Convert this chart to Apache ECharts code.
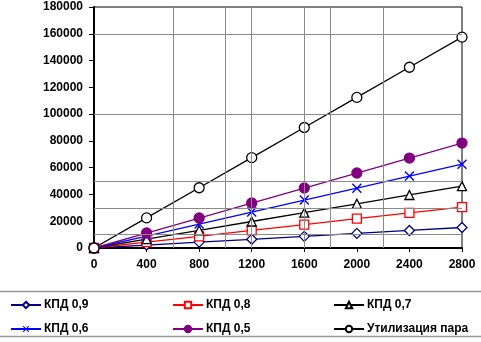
<!DOCTYPE html>
<html><head><meta charset="utf-8">
<script src="https://cdn.jsdelivr.net/npm/echarts@6/dist/echarts.min.js"></script>
<style>html,body{margin:0;padding:0;background:#fff}#c{width:481px;height:342px}</style>
</head><body><div id="c"></div>
<script>
var xValues = [0, 400, 800, 1200, 1600, 2000, 2400, 2800];
var kpd09 = [0, 2200, 4400, 6500, 8700, 10900, 13100, 15300];
var kpd08 = [0, 4400, 8700, 13100, 17500, 21900, 26200, 30600];
var kpd07 = [0, 6600, 13200, 19800, 26400, 33000, 39600, 46200];
var kpd06 = [0, 8950, 17900, 26800, 35800, 44700, 53700, 62600];
var kpd05 = [0, 11200, 22400, 33600, 44800, 56000, 67200, 78400];
var steam = [0, 22500, 45000, 67500, 90000, 112500, 135000, 157500];
var seriesNames = ['КПД 0,9', 'КПД 0,8', 'КПД 0,7', 'КПД 0,6', 'КПД 0,5', 'Утилизация пара'];
var xGridLines = [600, 1000, 1200, 1600, 1800, 2200];
var yGridLines = [10000, 30000, 50000, 100000, 160000];

function pts(arr){ return xValues.map(function(x,i){ return [x, arr[i]]; }); }
var X_PATH = 'path://M0,1L1,0L5,4L9,0L10,1L6,5L10,9L9,10L5,6L1,10L0,9L4,5Z';
var font = 'Liberation Sans, Arial, sans-serif';

function mk(name, data, color, symbol, size, fill){
  return {
    name: name, type: 'line', data: pts(data), z: 3,
    symbol: symbol, symbolSize: size, showAllSymbol: true,
    lineStyle: {color: color, width: 1.3},
    itemStyle: {color: fill, borderColor: color, borderWidth: 1.3},
    emphasis: {disabled: true}, animation: false
  };
}

var series = [
  {type: 'line', data: [], z: 1, silent: true, animation: false,
   markLine: {silent: true, symbol: 'none', animation: false, label: {show: false},
     lineStyle: {color: '#8a8a8a', width: 1, type: 'solid'},
     data: xGridLines.map(function(v){return {xAxis: v};}).concat(yGridLines.map(function(v){return {yAxis: v};}))}},
  mk(seriesNames[0], kpd09, '#000080', 'diamond', 10, '#fff'),
  mk(seriesNames[1], kpd08, '#ff0000', 'rect', 9, '#fff'),
  mk(seriesNames[2], kpd07, '#000000', 'triangle', 9, '#fff'),
  mk(seriesNames[3], kpd06, '#0000ff', X_PATH, 10, '#0000ff'),
  mk(seriesNames[4], kpd05, '#800080', 'circle', 10, '#800080'),
  mk(seriesNames[5], steam, '#000000', 'circle', 10, '#fff')
];
series[4].itemStyle.borderWidth = 0;

function legend(left, names){
  return {left: left, top: 299, padding: 0, orient: 'vertical', itemGap: 12, itemWidth: 30, itemHeight: 8,
    data: names, selectedMode: false,
    textStyle: {color: '#000', fontFamily: font, fontWeight: 'bold', fontSize: 12, padding: [0,0,0,-2]}};
}

var chart = echarts.init(document.getElementById('c'), null, {renderer: 'canvas'});
chart.setOption({
  animation: false,
  grid: {left: 94, top: 7, width: 368, height: 241, show: true, borderColor: '#000', borderWidth: 1},
  xAxis: {type: 'value', min: 0, max: 2800, interval: 400,
    axisLine: {lineStyle: {color: '#000', width: 2}},
    axisTick: {show: true, length: 4, lineStyle: {color: '#000'}},
    axisLabel: {color: '#000', fontFamily: font, fontWeight: 'bold', fontSize: 12, margin: 11,
      formatter: function(v){ return String(v); }},
    splitLine: {show: false}},
  yAxis: {type: 'value', min: 0, max: 180000, interval: 20000,
    axisLine: {show: true, lineStyle: {color: '#000', width: 2}},
    axisTick: {show: true, length: 5, lineStyle: {color: '#000'}},
    axisLabel: {color: '#000', fontFamily: font, fontWeight: 'bold', fontSize: 12, margin: 11,
      formatter: function(v){ return String(v); }},
    splitLine: {show: false}},
  legend: [
    legend(10, [seriesNames[0], seriesNames[3]]),
    legend(172, [seriesNames[1], seriesNames[4]]),
    legend(333, [seriesNames[2], seriesNames[5]])
  ],
  graphic: [
    {type: 'line', shape: {x1: 0, y1: 291.5, x2: 481, y2: 291.5}, style: {stroke: '#999', lineWidth: 1.5}},
    {type: 'line', shape: {x1: 0, y1: 336.5, x2: 481, y2: 336.5}, style: {stroke: '#999', lineWidth: 1.5}}
  ],
  series: series
});
</script></body></html>
